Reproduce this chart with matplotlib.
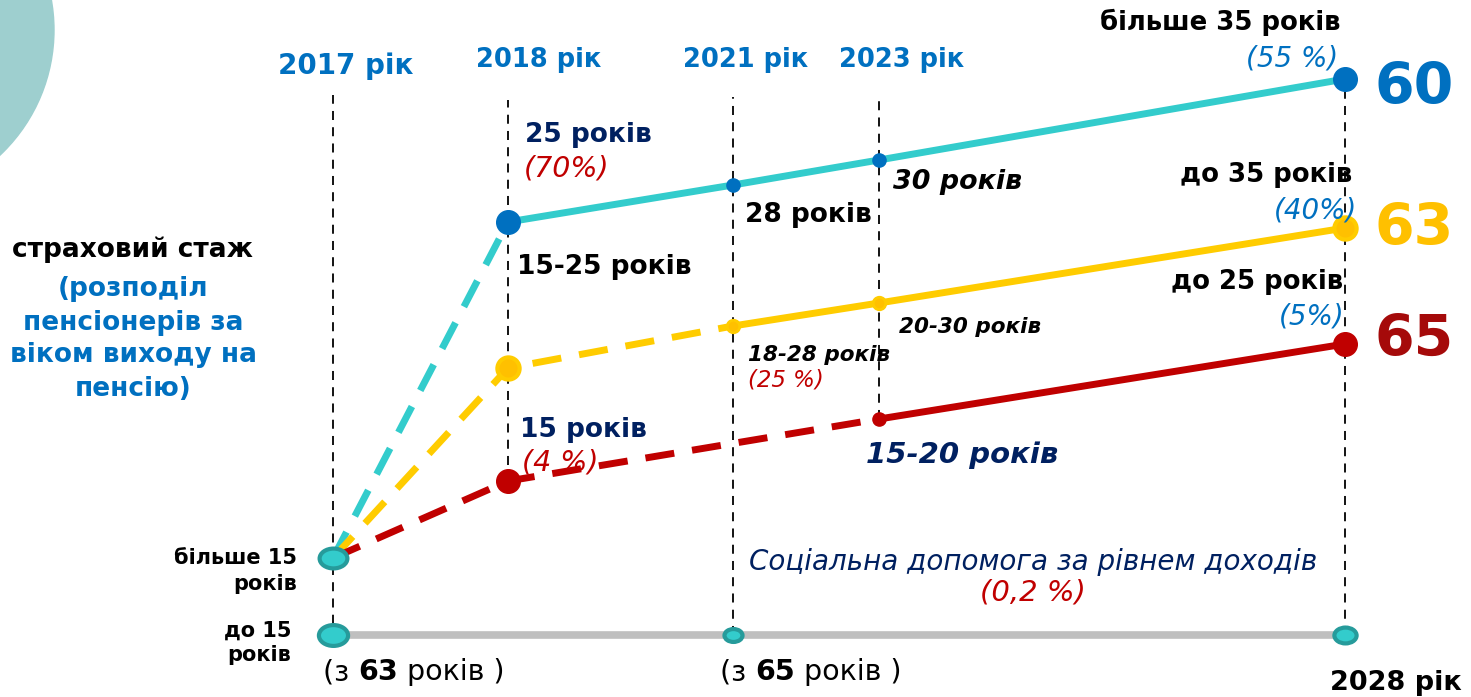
import numpy as np
import matplotlib
matplotlib.use("Agg")
import matplotlib.pyplot as plt
from matplotlib.path import Path
from matplotlib.transforms import Affine2D, IdentityTransform
from matplotlib.patches import Circle

W, H = 1471, 697

# ---- data ----
years = [2017, 2018, 2021, 2023, 2028]
year_labels = ["2017 рік", "2018 рік", "2021 рік", "2023 рік"]

# schematic height of each path (0 = bottom of the picture)
teal_years = [2017, 2018, 2021, 2023, 2028]
teal_level = [139, 475, 512, 537, 618]
yellow_years = [2017, 2018, 2021, 2023, 2028]
yellow_level = [139, 329, 371, 394, 469]
red_years = [2017, 2018, 2023, 2028]
red_level = [139, 216, 278, 353]
base_years = [2017, 2021, 2028]
base_level = 62

ages = ["60", "63", "65"]
end_labels = ["більше 35 років", "до 35 років", "до 25 років"]
end_shares = ["(55 %)", "(40%)", "(5%)"]

# colours
TEAL = "#33CCCC"
BLUE = "#0070C0"
YELLOW = "#FFCC00"
RED = "#C00000"
NAVY = "#002060"
DTEAL = "#269B9B"

# timeline is not linear in years -> piecewise scale
anchor_years = [2015, 2017, 2018, 2021, 2023, 2028, 2030]
anchor_pix = [0, 333, 508, 733, 879, 1345, 1471]


def fwd(x):
    return np.interp(x, anchor_years, anchor_pix)


def inv(p):
    return np.interp(p, anchor_pix, anchor_years)


fig = plt.figure(figsize=(W / 100, H / 100), dpi=100)
ax = fig.add_axes([0, 0, 1, 1])
ax.set_xscale("function", functions=(fwd, inv))
ax.set_xlim(2015, 2030)
ax.set_ylim(0, H)
ax.axis("off")

# decorative circle in the top-left corner
fig.patches.append(Circle((-118, H - 30), 172, transform=IdentityTransform(),
                          color="#9ECFCF", zorder=0))

# vertical dashed guides
guide_top = [602, 597, 600, 600, 605]
guide_bot = [57, 232, 62, 278, 62]
for yr, t, b in zip(years, guide_top, guide_bot):
    ax.plot([yr, yr], [b, t], color="black", lw=1.3, ls=(0, (5, 4)), zorder=1)

# base line (social help)
ax.plot([base_years[0], base_years[-1]], [base_level, base_level],
        color="#BFBFBF", lw=5.5, solid_capstyle="butt", zorder=2)

dash = (0, (4.2, 2.6))


def draw_path(xs, ys, color, solid_from):
    ax.plot(xs[:solid_from + 1], ys[:solid_from + 1], color=color, lw=5,
            ls=dash, zorder=3)
    ax.plot(xs[solid_from:], ys[solid_from:], color=color, lw=5,
            solid_capstyle="butt", zorder=3)


draw_path(teal_years, teal_level, TEAL, 1)
draw_path(yellow_years, yellow_level, YELLOW, 2)
draw_path(red_years, red_level, RED, 2)

# markers
ax.plot([teal_years[i] for i in (1, 4)], [teal_level[i] for i in (1, 4)], "o",
        color=BLUE, ms=17, zorder=5)
ax.plot([teal_years[i] for i in (2, 3)], [teal_level[i] for i in (2, 3)], "o",
        color=BLUE, ms=9.5, zorder=5)
ax.plot([yellow_years[i] for i in (1, 4)], [yellow_level[i] for i in (1, 4)], "o",
        mfc="#FFC000", mec=YELLOW, mew=3, ms=16, zorder=5)
ax.plot([yellow_years[i] for i in (2, 3)], [yellow_level[i] for i in (2, 3)], "o",
        mfc="#FFC000", mec=YELLOW, mew=2, ms=9, zorder=5)
ax.plot([red_years[i] for i in (1, 3)], [red_level[i] for i in (1, 3)], "o",
        color=RED, ms=17, zorder=5)
ax.plot([red_years[2]], [red_level[2]], "o", color=RED, ms=9.5, zorder=5)

ell = Path.unit_circle().transformed(Affine2D().scale(1.4, 1.0))
ax.plot([teal_years[0]], [teal_level[0]], marker=ell, ls="none", mfc=TEAL,
        mec=DTEAL, mew=3, ms=20, zorder=6)
ax.plot([base_years[0]], [base_level], marker=ell, ls="none", mfc=TEAL,
        mec=DTEAL, mew=3, ms=21, zorder=6)
ax.plot([base_years[1]], [base_level], marker=ell, ls="none", mfc=TEAL,
        mec=DTEAL, mew=3, ms=13, zorder=6)
ax.plot([base_years[2]], [base_level], marker=ell, ls="none", mfc=TEAL,
        mec=DTEAL, mew=3, ms=16, zorder=6)


# ---- texts (placed in picture pixels, y from top) ----
def put(x, y, s, **kw):
    kw.setdefault("va", "center")
    return fig.text(x / W, 1 - y / H, s, **kw)


put(346, 66, year_labels[0], ha="center", color=BLUE, weight="bold", fontsize=20)
put(539, 60, year_labels[1], ha="center", color=BLUE, weight="bold", fontsize=18.5)
put(746, 60, year_labels[2], ha="center", color=BLUE, weight="bold", fontsize=18.5)
put(902, 60, year_labels[3], ha="center", color=BLUE, weight="bold", fontsize=18.5)
put(1396, 683, "2028 рік", ha="center", color="black", weight="bold",
    fontsize=19.5)

age_colors = [BLUE, "#FFC000", "#A50A0A"]
label_xy = [(1340, 22), (1352, 175), (1343, 282)]
share_xy = [(1338, 58), (1357, 210), (1345, 316)]
age_y = [88, 229, 340]
for i in range(3):
    put(label_xy[i][0], label_xy[i][1], end_labels[i], ha="right",
        weight="bold", fontsize=18.7)
    put(share_xy[i][0], share_xy[i][1], end_shares[i], ha="right",
        style="italic", color=BLUE, fontsize=20)
    put(1375, age_y[i], ages[i], ha="left", weight="bold", fontsize=41,
        color=age_colors[i])

put(525, 135, "25 років", color=NAVY, weight="bold", fontsize=19)
put(524, 168, "(70%)", color=RED, style="italic", fontsize=20.5)
put(517, 267, "15-25 років", weight="bold", fontsize=19)
put(745, 215, "28 років", weight="bold", fontsize=19)
put(893, 182, "30 років", weight="bold", style="italic", fontsize=19.4)
put(899, 327, "20-30 років", weight="bold", style="italic", fontsize=15.5)
put(748, 355, "18-28 років", weight="bold", style="italic", fontsize=15.5)
put(748, 380, "(25 %)", color=RED, style="italic", fontsize=16.5)
put(520, 430, "15 років", color=NAVY, weight="bold", fontsize=19)
put(522, 463, "(4 %)", color=RED, style="italic", fontsize=20.5)
put(866, 455, "15-20 років", color=NAVY, weight="bold", style="italic",
    fontsize=21)
put(1033, 562, "Соціальна допомога за рівнем доходів", ha="center",
    color=NAVY, style="italic", fontsize=20)
put(1033, 593, "(0,2 %)", ha="center", color=RED, style="italic", fontsize=21)

put(297, 571, "більше 15\nроків", ha="right", multialignment="right",
    weight="bold", fontsize=15, linespacing=1.35)
put(291, 643, "до 15\nроків", ha="right", multialignment="right",
    weight="bold", fontsize=15, linespacing=1.3)

put(133, 250, "страховий стаж", ha="center", weight="bold", fontsize=19)
put(133, 339, "(розподіл\nпенсіонерів за\nвіком виходу на\nпенсію)",
    ha="center", multialignment="center", color=BLUE, weight="bold",
    fontsize=19, linespacing=1.35)


def from_age(x, age):
    t1 = put(x, 672, "(з ", fontsize=20.5)
    t2 = ax.annotate(age, xy=(1, 0), xycoords=t1, va="bottom", ha="left",
                     fontsize=20.5, weight="bold")
    ax.annotate(" років )", xy=(1, 0), xycoords=t2, va="bottom", ha="left",
                fontsize=20.5)


from_age(323, "63")
from_age(720, "65")

fig.savefig("out.png", dpi=100)
